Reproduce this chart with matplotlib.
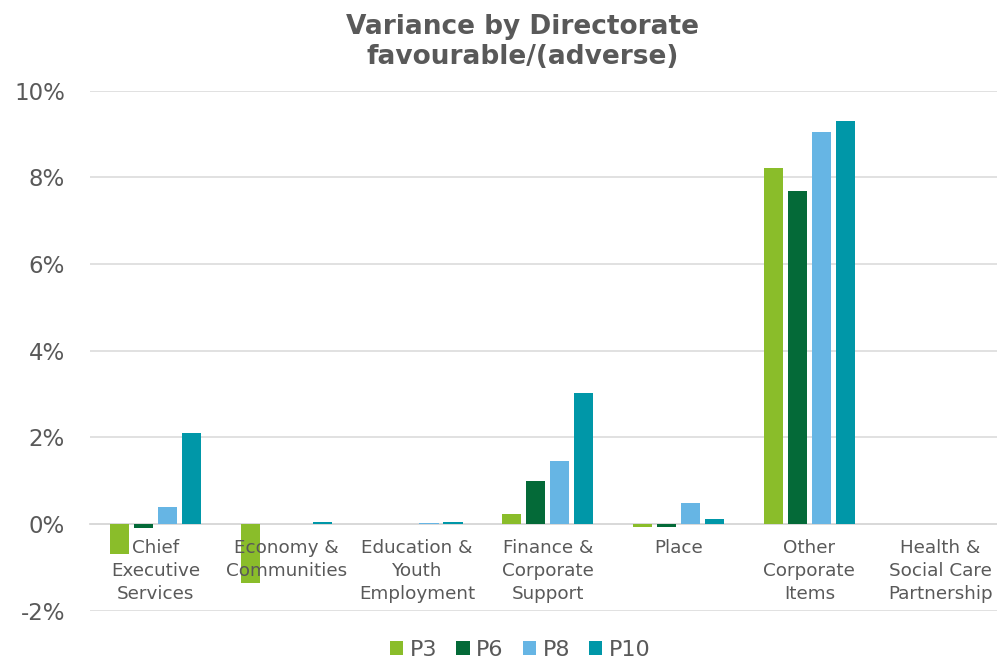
import matplotlib.pyplot as plt
import numpy as np

directorates = ['Chief\nExecutive\nServices', 'Economy &\nCommunities',
                'Education &\nYouth\nEmployment', 'Finance &\nCorporate\nSupport',
                'Place', 'Other\nCorporate\nItems', 'Health &\nSocial Care\nPartnership']
periods = ['P3', 'P6', 'P8', 'P10']

# variance as % of budget, favourable positive
p3 = [-0.70, -1.35, 0.00, 0.24, -0.08, 8.22, 0.00]
p6 = [-0.10, 0.00, 0.00, 1.00, -0.08, 7.68, 0.00]
p8 = [0.40, 0.00, 0.03, 1.46, 0.49, 9.04, 0.00]
p10 = [2.09, 0.05, 0.05, 3.02, 0.12, 9.29, 0.00]

colours = ['#8abd2a', '#046a38', '#66b5e4', '#0097a8']
text_col = '#595959'
grid_col = '#d9d9d9'

fig = plt.figure(figsize=(9.97, 6.61), dpi=100)
ax = fig.add_axes([90 / 997, 0.0761, 915.6 / 997, 0.7867])

x = np.arange(len(directorates))
step = 0.1835
for i, (name, vals, col) in enumerate(zip(periods, [p3, p6, p8, p10], colours)):
    ax.bar(x + (i - 1.5) * step, vals, width=0.148, color=col, label=name,
           zorder=2)

ax.set_xlim(-0.5, len(directorates) - 0.5)
ax.set_ylim(-2, 10)
ax.set_yticks(np.arange(-2, 11, 2))
ax.set_yticklabels(['%d%%' % v for v in np.arange(-2, 11, 2)])
ax.yaxis.grid(True, color=grid_col, linewidth=1.1)
ax.set_axisbelow(True)

ax.set_xticks(x)
ax.set_xticklabels(directorates)
# labels sit on top of the negative bars
ax.xaxis.set_zorder(4)

# category axis sits on the zero line
for loc, spine in ax.spines.items():
    if loc == 'bottom':
        spine.set_position(('data', 0))
        spine.set_color(grid_col)
        spine.set_linewidth(1.3)
        spine.set_zorder(1.5)
    else:
        spine.set_visible(False)

ax.tick_params(axis='x', length=0, pad=11, labelsize=13.2, labelcolor=text_col)
ax.tick_params(axis='y', length=0, pad=18, labelsize=16.5, labelcolor=text_col)
for lbl in ax.get_xticklabels():
    lbl.set_linespacing(1.36)

fig.text(523 / 997, 1 - 42 / 661, 'Variance by Directorate\nfavourable/(adverse)',
         ha='center', va='center', fontsize=19, fontweight='bold',
         color=text_col, linespacing=1.25)

leg = fig.legend(loc='center', bbox_to_anchor=(0.522, 0.017), ncol=4,
                 frameon=False, fontsize=16, handlelength=0.6,
                 handleheight=0.6, handletextpad=0.3, columnspacing=0.85,
                 borderpad=0)
for t in leg.get_texts():
    t.set_color(text_col)

fig.savefig('out.png', dpi=100)
